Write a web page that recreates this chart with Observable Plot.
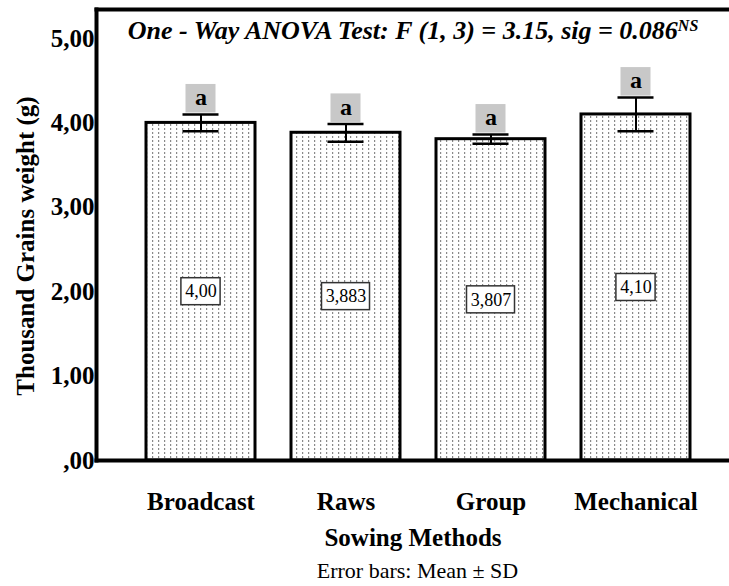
<!DOCTYPE html>
<html>
<head>
<meta charset="utf-8">
<script src="https://cdn.jsdelivr.net/npm/d3@7"></script>
<script src="https://cdn.jsdelivr.net/npm/@observablehq/plot@0.6"></script>
<style>
  html, body { margin: 0; padding: 0; background: white; }
  #chart { width: 729px; }
  #chart svg text { font-family: "Liberation Serif", "Times New Roman", serif; }
  #caption { width: 643px; margin-left: 96px; text-align: center; font-family: "Liberation Serif", "Times New Roman", serif; font-size: 22px; line-height: 30px; color: #000; }
</style>
</head>
<body>
<div id="chart"></div>
<div id="caption">Error bars: Mean ± SD</div>
<script>
const methods = ["Broadcast", "Raws", "Group", "Mechanical"];
const means = [4.00, 3.883, 3.807, 4.10];
const sds = [0.10, 0.105, 0.055, 0.20];
const valueLabels = ["4,00", "3,883", "3,807", "4,10"];
const letters = ["a", "a", "a", "a"];
const yTicks = [0, 1, 2, 3, 4, 5];
const titleText = "One - Way ANOVA Test: F (1, 3) = 3.15, sig = 0.086";
const titleSup = "NS";
const yLabel = "Thousand Grains weight (g)";
const xLabel = "Sowing Methods";

const data = methods.map((m, i) => ({method: m, mean: means[i], sd: sds[i], label: valueLabels[i], letter: letters[i]}));
const serif = "Liberation Serif";
const fmt = d => d === 0 ? ",00" : d.toFixed(2).replace(".", ",");

const bandW = 109;
const labelBoxes = data.map(d => {
  const w = d.label.length * 8.8 + 4;
  const inset = (bandW - w) / 2;
  return Plot.barY([d], {x: "method", y1: v => v.mean / 2, y2: v => v.mean / 2,
    insetTop: -13.5, insetBottom: -13.5, insetLeft: inset, insetRight: inset,
    fill: "white", stroke: "#333", strokeWidth: 1.5});
});

const chart = Plot.plot({
  width: 729,
  height: 556,
  marginLeft: 96,
  marginRight: 0,
  marginTop: 9,
  marginBottom: 96,
  style: {fontFamily: serif, background: "white", color: "black"},
  x: {domain: methods, range: [127, 708], paddingInner: 0.25, paddingOuter: 0.125},
  y: {domain: [0, 5], range: [460, 38]},
  marks: [
    Plot.barY(data, {x: "method", y: "mean", fill: "url(#dots)", stroke: "black", strokeWidth: 3}),
    Plot.ruleX(data, {x: "method", y1: d => d.mean - d.sd, y2: d => d.mean + d.sd, stroke: "black", strokeWidth: 2}),
    Plot.tickY(data, {x: "method", y: d => d.mean + d.sd, stroke: "black", strokeWidth: 2.5, insetLeft: 36.5, insetRight: 36.5}),
    Plot.tickY(data, {x: "method", y: d => d.mean - d.sd, stroke: "black", strokeWidth: 2.5, insetLeft: 36.5, insetRight: 36.5}),
    Plot.barY(data, {x: "method", y1: d => d.mean + d.sd, y2: d => d.mean + d.sd, insetTop: -30, insetBottom: 1.5, insetLeft: 39.5, insetRight: 39.5, fill: "#c8c8c8"}),
    Plot.text(data, {x: "method", y: d => d.mean + d.sd, text: "letter", dy: -17, fontSize: 24, fontWeight: "bold", fontFamily: serif}),
    ...labelBoxes,
    Plot.text(data, {x: "method", y: d => d.mean / 2, text: "label", fontSize: 18, fontFamily: serif}),
    Plot.axisY({ticks: yTicks, tickSize: 0, tickPadding: 2, tickFormat: fmt, fontSize: 25, fontWeight: "bold", fontFamily: serif, label: null}),
    Plot.axisX({tickSize: 0, tickPadding: 32, fontSize: 25, fontWeight: "bold", fontFamily: serif, label: null}),
    Plot.text([xLabel], {frameAnchor: "bottom", lineAnchor: "middle", dy: 77, fontSize: 25, fontWeight: "bold", fontFamily: serif}),
    Plot.text([yLabel], {frameAnchor: "left", textAnchor: "middle", lineAnchor: "middle", rotate: -90, dx: -71, dy: 11, fontSize: 25, fontWeight: "bold", fontFamily: serif}),
    Plot.text([titleText], {frameAnchor: "top", lineAnchor: "middle", dy: 21, fontSize: 26, fontWeight: "bold", fontStyle: "italic", fontFamily: serif}),
    Plot.frame({anchor: "left", stroke: "black", strokeWidth: 4}),
    Plot.frame({anchor: "top", stroke: "black", strokeWidth: 4}),
    Plot.frame({anchor: "bottom", stroke: "black", strokeWidth: 4})
  ]
});

const ns = "http://www.w3.org/2000/svg";
const defs = document.createElementNS(ns, "defs");
defs.innerHTML = '<pattern id="dots" width="6" height="4" patternUnits="userSpaceOnUse"><rect width="6" height="4" fill="white"/><rect x="2" y="0" width="1.2" height="2" fill="#8a8a8a"/></pattern>';
chart.insertBefore(defs, chart.firstChild);

chart.querySelectorAll("text").forEach(t => {
  if (t.textContent === titleText) {
    const sup = document.createElementNS(ns, "tspan");
    sup.setAttribute("dy", "-0.5em");
    sup.setAttribute("font-size", "16");
    sup.textContent = titleSup;
    t.appendChild(sup);
  }
});

document.getElementById("chart").appendChild(chart);
</script>
</body>
</html>
